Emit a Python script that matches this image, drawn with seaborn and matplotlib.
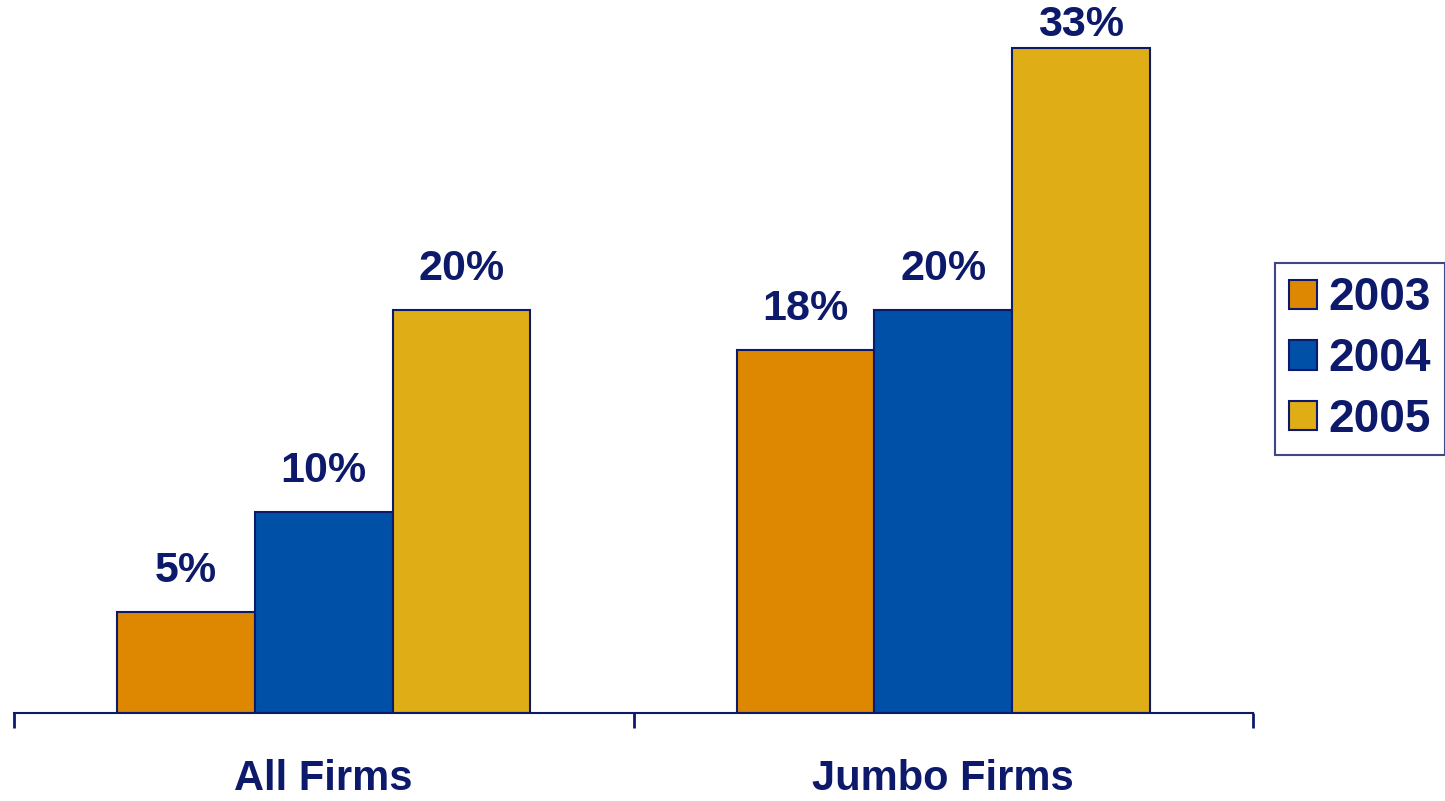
import pandas as pd
import matplotlib
matplotlib.use("Agg")
import matplotlib.pyplot as plt
import seaborn as sb

groups = ["All Firms", "Jumbo Firms"]
years = ["2003", "2004", "2005"]
share_2003 = [5, 18]
share_2004 = [10, 20]
share_2005 = [20, 33]

navy = "#0D1A6B"
colors = ["#DD8800", "#0050A8", "#DFAD15"]

rows = []
for yr, vals in zip(years, [share_2003, share_2004, share_2005]):
    for g, v in zip(groups, vals):
        rows.append({"group": g, "year": yr, "share": v})
df = pd.DataFrame(rows)

sb.set_style("white")
plt.rcParams['font.family'] = ['Liberation Sans', 'DejaVu Sans']

fig = plt.figure(figsize=(14.45, 8.01), dpi=100)
ax = fig.add_axes([14 / 1445, 88 / 801, (1253 - 14) / 1445, 706 / 801])

sb.barplot(data=df, x="group", y="share", hue="year", order=groups, hue_order=years,
           palette=colors, saturation=1, width=0.667, edgecolor=navy, linewidth=1.5, ax=ax)

ax.set_xlim(-0.5, 1.5)
ax.set_ylim(0, 706 / 20.15)

# value labels on top of bars (tallest one squeezed down so it stays inside the figure)
top = df["share"].max()
for cont in ax.containers:
    for bar in cont:
        h = bar.get_height()
        off = 2 if h == top else 15
        ax.annotate(f"{h:.0f}%", (bar.get_x() + bar.get_width() / 2, h),
                    xytext=(0, off), textcoords="offset points", ha="center", va="bottom",
                    fontsize=31, fontweight="bold", color=navy)

for s in ["top", "right", "left"]:
    ax.spines[s].set_visible(False)
ax.spines["bottom"].set_color(navy)
ax.spines["bottom"].set_linewidth(1.5)

ax.set_yticks([])
ax.set_xticks([-0.5, 0.5, 1.5])
ax.set_xticklabels([])
ax.set_xticks([0, 1], minor=True)
ax.set_xticklabels(groups, minor=True, fontsize=30, fontweight="bold", color=navy)
ax.tick_params(axis="x", which="major", direction="out", length=11, width=2, color=navy, bottom=True)
ax.tick_params(axis="x", which="minor", length=0, pad=33)
ax.set_xlabel("")
ax.set_ylabel("")

handles, labels = ax.get_legend_handles_labels()
leg = ax.legend(handles, labels, loc="center left", bbox_to_anchor=(1275 / 1445, 1 - 359 / 801),
                bbox_transform=fig.transFigure, frameon=True, fancybox=False,
                prop={"size": 33, "weight": "bold"}, labelcolor=navy,
                handlelength=0.62, handleheight=0.62, handletextpad=0.25,
                labelspacing=0.36, borderpad=0.3, borderaxespad=0)
leg.get_frame().set_edgecolor(navy)
leg.get_frame().set_linewidth(1.5)

plt.savefig("out.png", dpi=100)
